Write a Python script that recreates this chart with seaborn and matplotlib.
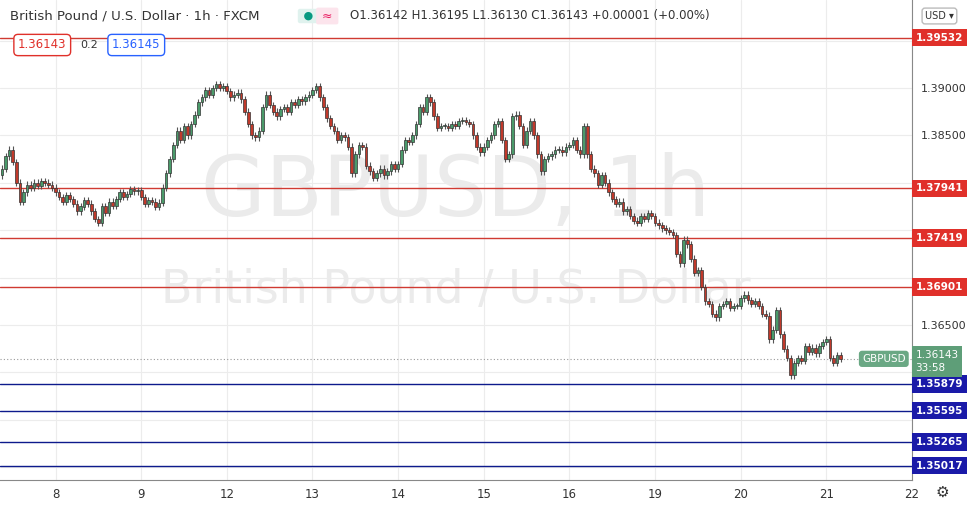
import matplotlib
matplotlib.use("Agg")
import matplotlib.pyplot as plt
import matplotlib.transforms as mtrans
import seaborn as sns
import numpy as np
import pandas as pd

closes = [
 1.3815,1.3828,1.3835,1.3822,1.3800,1.3780,1.3790,1.3798,1.3795,1.3800,1.3797,1.3802,1.3800,1.3798,1.3795,
 1.3790,1.3785,1.3780,1.3787,1.3783,1.3778,1.3770,1.3775,1.3782,1.3778,1.3770,1.3762,1.3758,1.3775,1.3768,1.3780,1.3776,1.3783,1.3790,1.3785,1.3788,1.3793,1.3791,1.3792,
 1.3785,1.3778,1.3782,1.3780,1.3775,1.3779,1.3795,1.3810,1.3825,1.3840,1.3855,1.3845,1.3860,1.3850,1.3862,1.3872,1.3885,1.3890,1.3898,1.3893,1.3900,1.3904,1.3900,1.3902,
 1.3897,1.3890,1.3893,1.3895,1.3888,1.3875,1.3862,1.3850,1.3848,1.3855,1.3880,1.3893,1.3882,1.3875,1.3870,1.3878,1.3880,1.3875,1.3885,1.3882,1.3888,1.3886,1.3890,1.3893,
 1.3898,1.3902,1.3890,1.3880,1.3868,1.3860,1.3855,1.3845,1.3850,1.3848,1.3838,1.3810,1.3830,1.3840,1.3838,1.3818,1.3812,1.3805,1.3810,1.3815,1.3808,1.3812,1.3820,1.3815,
 1.3820,1.3835,1.3845,1.3843,1.3850,1.3862,1.3880,1.3875,1.3890,1.3885,1.3870,1.3858,1.3860,1.3860,1.3858,1.3862,1.3860,1.3865,1.3866,1.3864,1.3862,1.3850,1.3838,1.3832,
 1.3838,1.3845,1.3850,1.3862,1.3865,1.3845,1.3825,1.3830,1.3870,1.3872,1.3860,1.3840,1.3855,1.3865,1.3850,1.3830,1.3812,1.3825,1.3828,1.3830,1.3835,1.3835,1.3832,1.3838,
 1.3840,1.3845,1.3835,1.3830,1.3860,1.3830,1.3815,1.3810,1.3798,1.3808,1.3800,1.3790,1.3783,1.3778,1.3780,1.3770,1.3772,1.3765,1.3760,1.3758,1.3765,1.3762,1.3768,1.3765,
 1.3758,1.3755,1.3752,1.3750,1.3748,1.3745,1.3725,1.3715,1.3740,1.3735,1.3720,1.3705,1.3708,1.3690,1.3675,1.3672,1.3662,1.3658,1.3670,1.3672,1.3675,1.3668,1.3670,1.3670,
 1.3678,1.3682,1.3676,1.3672,1.3675,1.3670,1.3662,1.3660,1.3635,1.3645,1.3666,1.3640,1.3625,1.3615,1.3597,1.3610,1.3615,1.3612,1.3628,1.3622,1.3626,1.3620,1.3628,1.3632,
 1.3635,1.3615,1.3610,1.3618,1.3614,
]
first_open = 1.3808
day_labels = ["8", "9", "12", "13", "14", "15", "16", "19", "20", "21", "22"]
day_starts = [15, 39, 63, 87, 111, 135, 159, 183, 207, 231, 255]
red_levels = [1.39532, 1.37941, 1.37419, 1.36901]
blue_levels = [1.35879, 1.35595, 1.35265, 1.35017]
last_price = 1.36143

sns.set_style("white")
plt.rcParams['font.family'] = ['DejaVu Sans']

df = pd.DataFrame({"close": closes})
df["open"] = [first_open] + closes[:-1]
df["i"] = np.arange(len(df))
df["up"] = df["close"] >= df["open"]
wick = 0.00035
df["high"] = df[["open", "close"]].max(axis=1) + wick
df["low"] = df[["open", "close"]].min(axis=1) - wick

fig = plt.figure(figsize=(9.68, 5.08), dpi=100)
ax = fig.add_axes([0, 1 - 480/508, 912/968, 480/508])
green, red = "#4a9a6a", "#c0392b"
ax.vlines(df["i"], df["low"], df["high"], color="#555555", lw=0.8, zorder=3)
bodies = (df["close"] - df["open"]).abs().clip(lower=0.00008)
ax.bar(df["i"], bodies, bottom=df[["open", "close"]].min(axis=1), width=0.75,
       color=np.where(df["up"], green, red), edgecolor="#333333", linewidth=0.5, zorder=4)

ax.set_xlim(-0.56, 254.2)
ax.set_ylim(1.39 - 392/9480, 1.39 + 88/9480)
ticks = np.arange(1.350, 1.3951, 0.005)
covered = red_levels + blue_levels + [last_price - 0.0003]
ax.set_yticks(ticks)
ax.set_yticklabels([("" if min(abs(t - c) for c in covered) < 0.0016 else f"{t:.5f}") for t in ticks],
                   fontsize=8, color="#333")
ax.yaxis.tick_right()
ax.set_xticks(day_starts)
ax.set_xticklabels(day_labels, fontsize=8.5, color="#333")
ax.tick_params(length=0, pad=6)
ax.grid(True, color="#ececec", lw=0.8, zorder=0)
for s in ["top", "left"]:
    ax.spines[s].set_visible(False)
for s in ["right", "bottom"]:
    ax.spines[s].set_color("#888")

tr = mtrans.blended_transform_factory(ax.transAxes, ax.transData)
for lv in red_levels:
    ax.axhline(lv, color="#d03a32", lw=1.0, zorder=2)
    ax.text(1.004, lv, f"{lv:.5f}", transform=tr, ha="left", va="center", fontsize=7.5,
            color="white", fontweight="bold",
            bbox=dict(boxstyle="square,pad=0.35", fc="#e0302a", ec="none"))
for lv in blue_levels:
    ax.axhline(lv, color="#0d1a8c", lw=1.0, zorder=2)
    ax.text(1.004, lv, f"{lv:.5f}", transform=tr, ha="left", va="center", fontsize=7.5,
            color="white", fontweight="bold",
            bbox=dict(boxstyle="square,pad=0.35", fc="#1a1aa8", ec="none"))
ax.axhline(last_price, color="#999", lw=0.8, ls=(0, (1, 2)), zorder=2)
ax.text(1.004, last_price - 0.0003, f"{last_price:.5f}\n33:58", transform=tr, ha="left", va="center",
        fontsize=7.5, color="white", linespacing=1.4,
        bbox=dict(boxstyle="square,pad=0.35", fc="#5e9e78", ec="none"))
ax.text(0.993, last_price, "GBPUSD", transform=tr, ha="right", va="center", fontsize=7.5,
        color="white", bbox=dict(boxstyle="round,pad=0.3", fc="#6aa884", ec="none"))

ax.text(0.5, 0.60, "GBPUSD, 1h", transform=ax.transAxes, ha="center", va="center",
        fontsize=60, color="#ebebeb", zorder=1)
ax.text(0.5, 0.395, "British Pound / U.S. Dollar", transform=ax.transAxes, ha="center",
        va="center", fontsize=33, color="#ebebeb", zorder=1)

fig.text(10/968, 1 - 16/508, "British Pound / U.S. Dollar · 1h · FXCM", fontsize=9.5,
         color="#333", va="center")
fig.text(300/968, 1 - 16/508, " ● ", fontsize=8, color="#089981", va="center",
         bbox=dict(boxstyle="round,pad=0.2", fc="#e0f2ee", ec="none"))
fig.text(318/968, 1 - 16/508, " ≈ ", fontsize=9, color="#e91e63", va="center",
         bbox=dict(boxstyle="round,pad=0.15", fc="#fce4ec", ec="none"))
fig.text(350/968, 1 - 16/508, "O1.36142 H1.36195 L1.36130 C1.36143 +0.00001 (+0.00%)",
         fontsize=8.5, color="#333", va="center")
fig.text(18/968, 1 - 45/508, "1.36143", fontsize=8.5, color="#e0302a", va="center",
         bbox=dict(boxstyle="round,pad=0.35", fc="white", ec="#e0302a"))
fig.text(80/968, 1 - 45/508, "0.2", fontsize=8, color="#333", va="center")
fig.text(112/968, 1 - 45/508, "1.36145", fontsize=8.5, color="#2962ff", va="center",
         bbox=dict(boxstyle="round,pad=0.35", fc="white", ec="#2962ff"))
fig.text(925/968, 1 - 16/508, "USD ▾", fontsize=7, color="#333", va="center",
         bbox=dict(boxstyle="round,pad=0.3", fc="white", ec="#bbb"))
fig.text(942/968, 1 - 492/508, "⚙", fontsize=11, color="#333", va="center", ha="center")

fig.savefig("out.png", dpi=100)
